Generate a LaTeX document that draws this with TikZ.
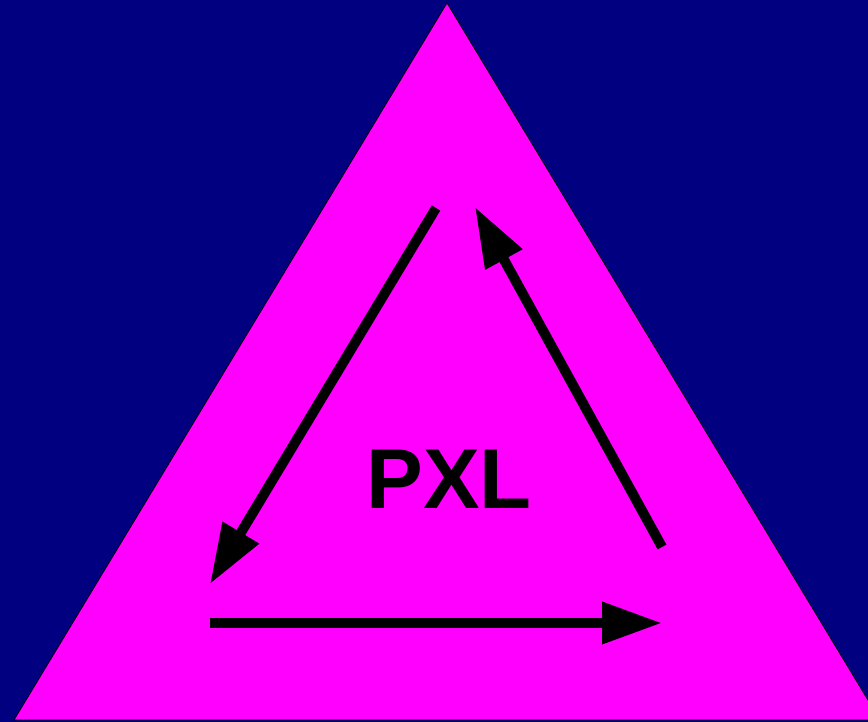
\documentclass[tikz,border=0pt]{standalone}
\usepackage{fontspec}
\setmainfont{Liberation Sans}
\usetikzlibrary{arrows.meta}
\definecolor{navybg}{RGB}{0,0,128}
\definecolor{magentafill}{RGB}{255,0,255}
\tikzset{
  cyclearrow/.style={draw=black, line width=10pt,
    -{Triangle[length=60pt,width=40pt]}},
  label/.style={font=\fontsize{85}{85}\selectfont\bfseries, inner sep=0pt, text=black}
}
\begin{document}
\begin{tikzpicture}[x=1pt,y=1pt]
  % background
  \fill[navybg] (0,0) rectangle (868,722);
  \useasboundingbox (0,0) rectangle (868,722);
  \begin{scope}
    \clip (0,0) rectangle (868,722);
    \filldraw[fill=magentafill, draw=black, line width=0.8pt]
      (447,719) -- (14,2) -- (880,2) -- cycle;
  \end{scope}
  % arrow end points
  \coordinate (lstart) at (436,514);
  \coordinate (lend) at (210,138);
  \coordinate (bstart) at (210,99);
  \coordinate (bend) at (662,99);
  \coordinate (rstart) at (662,175);
  \coordinate (rend) at (475,515);
  \draw[cyclearrow] (lstart) -- (lend);
  \draw[cyclearrow] (bstart) -- (bend);
  \draw[cyclearrow] (rstart) -- (rend);
  \node[label] (pxl) at (449,243) {PXL};
\end{tikzpicture}
\end{document}
